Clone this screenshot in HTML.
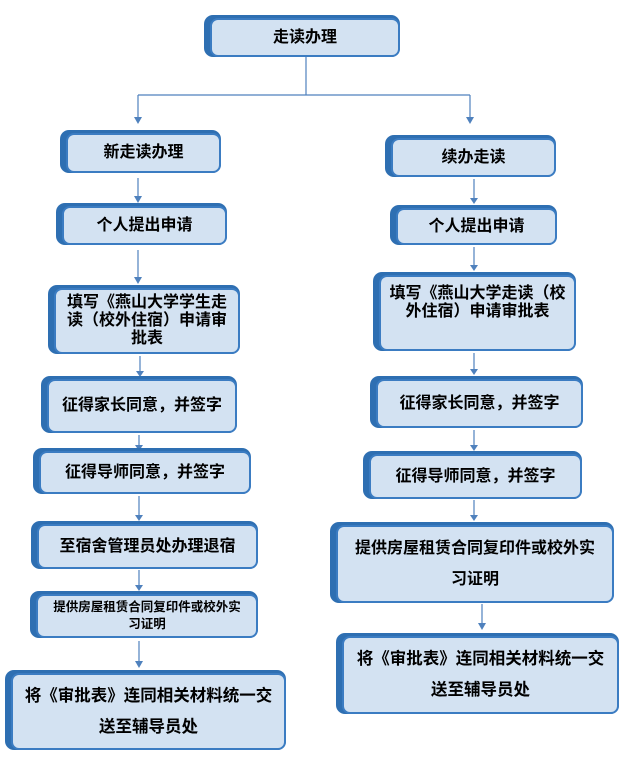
<!DOCTYPE html>
<html><head><meta charset="utf-8"><style>
body{margin:0;width:621px;height:757px;background:#fff;position:relative;overflow:hidden;font-family:"Liberation Sans","Noto Sans CJK SC",sans-serif;}
.b{position:absolute;background:#2e6fb2;border-radius:9px;}
.b>div{position:absolute;left:6px;top:3px;right:0;bottom:0;background:#d3e2f2;border:2px solid #3b7cc2;border-radius:8px;box-sizing:border-box;display:flex;align-items:center;justify-content:center;text-align:center;font-weight:bold;color:#000;font-size:16px;line-height:18px;padding:0;white-space:nowrap;}
svg{position:absolute;left:0;top:0}
</style></head><body>
<svg width="621" height="757">
<g stroke="#4f81bd" stroke-width="1.2" fill="none">
<path d="M306 57V95M138 95H470M138 95V118M470 95V118"/>
<path d="M138 178V197M138 250V278M140 356V372M139 435V446M139 496V516M139 570V586M139 641V662"/>
<path d="M474 179V199M474 247V266M474 353V370M474 430V446M474 500V516M482 604V624"/>
</g>
<g fill="#4f81bd">
<path d="M134 117h8l-4 7z"/><path d="M466 117h8l-4 7z"/>
<path d="M134 196h8l-4 7z"/><path d="M134 277h8l-4 7z"/><path d="M136 371h8l-4 6z"/><path d="M135 445h8l-4 6z"/><path d="M135 515h8l-4 6z"/><path d="M135 585h8l-4 6z"/><path d="M135 661h8l-4 7z"/>
<path d="M470 198h8l-4 6z"/><path d="M470 265h8l-4 6z"/><path d="M470 369h8l-4 6z"/><path d="M470 445h8l-4 6z"/><path d="M470 515h8l-4 6z"/><path d="M478 623h8l-4 7z"/>
</g></svg>

<div class="b" style="left:204px;top:15px;width:196px;height:42px"><div>走读办理</div></div>

<div class="b" style="left:60px;top:130px;width:161px;height:43px"><div>新走读办理</div></div>
<div class="b" style="left:56px;top:203px;width:171px;height:42px"><div>个人提出申请</div></div>
<div class="b" style="left:48px;top:285px;width:192px;height:69px"><div style="line-height:18px">填写《燕山大学学生走<br>读（校外住宿）申请审<br>批表</div></div>
<div class="b" style="left:41px;top:376px;width:196px;height:57px"><div>征得家长同意，并签字</div></div>
<div class="b" style="left:33px;top:448px;width:218px;height:46px"><div>征得导师同意，并签字</div></div>
<div class="b" style="left:31px;top:521px;width:227px;height:48px"><div>至宿舍管理员处办理退宿</div></div>
<div class="b" style="left:30px;top:591px;width:228px;height:47px"><div style="font-size:12.5px;line-height:17px">提供房屋租赁合同复印件或校外实<br>习证明</div></div>
<div class="b" style="left:5px;top:670px;width:281px;height:80px"><div style="line-height:31px;font-size:16.5px">将《审批表》连同相关材料统一交<br>送至辅导员处</div></div>

<div class="b" style="left:385px;top:135px;width:171px;height:42px"><div>续办走读</div></div>
<div class="b" style="left:390px;top:205px;width:167px;height:40px"><div>个人提出申请</div></div>
<div class="b" style="left:373px;top:272px;width:203px;height:79px"><div style="align-items:flex-start;padding-top:8px;line-height:18px">填写《燕山大学走读（校<br>外住宿）申请审批表</div></div>
<div class="b" style="left:370px;top:376px;width:213px;height:52px"><div>征得家长同意，并签字</div></div>
<div class="b" style="left:363px;top:451px;width:219px;height:48px"><div>征得导师同意，并签字</div></div>
<div class="b" style="left:330px;top:522px;width:284px;height:81px"><div style="line-height:31px;font-size:16px">提供房屋租赁合同复印件或校外实<br>习证明</div></div>
<div class="b" style="left:336px;top:633px;width:283px;height:81px"><div style="line-height:31px;font-size:16.5px">将《审批表》连同相关材料统一交<br>送至辅导员处</div></div>
</body></html>
